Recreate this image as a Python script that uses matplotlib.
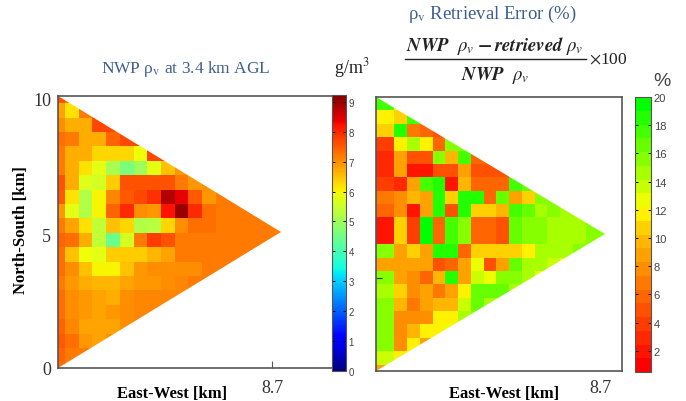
import numpy as np
import matplotlib
matplotlib.use("Agg")
import matplotlib.pyplot as plt
from matplotlib.colors import LinearSegmentedColormap
from matplotlib.patches import Polygon
from matplotlib.transforms import ScaledTranslation

plt.rcParams['font.family'] = ['Liberation Serif', 'DejaVu Serif']
plt.rcParams['mathtext.fontset'] = 'stix'
plt.rcParams['text.color'] = '#222222'

# water vapour density, g/m3, rows from north to south, columns from west to east
nwp_rows = [
    [7.6, 7.3, 7.3],
    [6.8, 6.2, 7.2, 7.4],
    [7.0, 6.7, 6.7, 7.7, 7.7, 7.7],
    [7.3, 7.2, 6.7, 6.7, 7.4, 7.7, 7.7, 7.7],
    [7.2, 6.7, 6.7, 6.3, 6.3, 6.3, 5.9, 7.7, 7.7, 7.2],
    [7.2, 6.7, 6.2, 5.8, 5.1, 4.6, 5.0, 5.8, 6.5, 6.9, 6.9, 7.0],
    [7.6, 6.7, 5.7, 5.6, 6.4, 7.6, 7.6, 7.6, 7.6, 7.2, 6.9, 7.0, 7.2],
    [7.5, 6.2, 5.2, 6.0, 7.1, 7.5, 7.7, 7.9, 8.8, 8.4, 7.5, 6.9, 7.2, 7.2, 7.2],
    [6.9, 5.8, 5.2, 6.0, 7.4, 8.0, 7.0, 6.9, 8.2, 9.0, 8.0, 7.3, 7.2, 7.2, 7.2, 7.2, 7.2],
    [7.2, 6.8, 6.2, 5.4, 6.5, 6.3, 5.2, 5.3, 6.3, 7.0, 7.3, 7.3, 7.2, 7.2, 7.2, 7.2, 7.2],
    [7.4, 7.3, 6.7, 5.4, 4.4, 5.6, 7.2, 7.8, 7.6, 7.2, 7.2, 7.2, 7.2, 7.2, 7.2, 7.2, 7.2],
    [7.3, 6.5, 5.9, 5.8, 6.4, 6.4, 6.4, 6.6, 6.8, 7.2, 7.2, 7.2, 7.2, 7.2, 7.2, 7.2, 7.2],
    [7.3, 7.0, 6.5, 6.0, 6.0, 6.5, 6.9, 7.0, 7.0, 7.0, 7.0, 7.2, 7.2, 7.2, 7.2],
    [7.2, 6.9, 6.7, 6.6, 6.6, 6.8, 6.9, 6.9, 7.0, 7.1, 7.2, 7.2, 7.2],
    [7.3, 7.0, 6.9, 6.8, 6.7, 7.0, 7.1, 7.1, 7.1, 7.1, 7.1],
    [7.3, 7.0, 6.9, 6.8, 6.9, 7.0, 7.1, 7.1, 7.1, 7.1],
    [7.4, 7.1, 6.8, 6.8, 6.8, 7.0, 7.1, 7.1],
    [7.5, 7.3, 6.9, 6.8, 7.0, 7.1],
    [7.4, 7.2, 7.2, 7.2, 7.2],
    [7.3, 7.2, 7.2],
]

# retrieval error, percent
error_rows = [
    [18, 12, 12],
    [12, 11, 18, 18],
    [10.5, 19, 6.5, 5.5, 4.5, 5],
    [4, 11.5, 15, 11.5, 5.5, 16, 16, 16],
    [2.5, 8.5, 4.5, 5, 15.5, 9.5, 18, 6, 6],
    [3, 8.5, 1.5, 1.5, 4.5, 4.5, 8.5, 5, 5, 5, 17, 17],
    [3.5, 2.5, 8.5, 18, 19, 2, 9.5, 6, 6, 5.5, 18, 17, 17, 16],
    [6.5, 7.5, 10, 8.5, 19, 10.5, 19, 19, 5.5, 16.5, 9, 10.5, 16, 16, 16],
    [5.5, 7.5, 1.5, 8.5, 19, 4.5, 18.5, 11, 11, 10, 18, 16.5, 14.5, 15.5, 15, 15, 16],
    [2, 10.5, 3.5, 19.5, 5.5, 18, 16, 5.5, 6, 5, 17, 16, 16, 15, 14.5, 15, 15.5, 16],
    [2, 10.5, 3.5, 19.5, 5.5, 18, 16, 5.5, 6, 5, 17, 16, 16, 15, 14.5, 15, 15.5, 16],
    [16, 8.5, 10.5, 8.5, 19, 19, 5.5, 10.5, 10.5, 10.5, 10.5, 11.5, 14.5, 14.5, 15, 15.5, 15, 15],
    [9, 9, 9, 8.5, 5, 5.5, 8.5, 12.5, 5, 9, 17, 15, 14.5, 13.5, 13, 13, 13],
    [16, 8.5, 7.5, 6, 10, 19, 8.5, 14, 13, 16, 16, 15, 13, 13, 13],
    [14.5, 10.5, 8, 9, 7, 9, 12, 16.5, 16.5, 16.5, 15, 15, 15],
    [15.5, 9.5, 7, 8.5, 9.5, 9.5, 13.5, 16.5, 15, 15, 15],
    [15.5, 8, 8, 8, 11.5, 12, 15, 16, 16],
    [15.5, 8, 10, 11.5, 11.5, 13, 13, 13],
    [16, 8, 11.5, 8.5, 12, 12],
    [14, 12, 12, 12],
    [9, 12, 12],
]

nwp_ticks = list(range(10))
error_ticks = list(range(2, 21, 2))


def to_grid(rows):
    width = max(len(r) for r in rows)
    return np.array([r + [np.nan] * (width - len(r)) for r in rows])


def make_panel(fig, box, rows, first_w, step_w, first_h, step_h, tip, cmap, vmin, vmax):
    W, H = 686, 402
    left, top, right, bottom = box
    ax = fig.add_axes([left / W, 1 - bottom / H, (right - left) / W, (bottom - top) / H])
    grid = to_grid(rows)
    xe = np.r_[0, first_w + step_w * np.arange(grid.shape[1])]
    ye = np.r_[10, 10 - first_h - step_h * np.arange(grid.shape[0])]
    mesh = ax.pcolormesh(xe, ye, grid, cmap=cmap, vmin=vmin, vmax=vmax, antialiased=False)
    mesh.set_clip_path(Polygon([(0, 10), (tip, 5), (0, 0)], transform=ax.transData))
    ax.set_ylim(0, 10)
    for s in ax.spines.values():
        s.set_color('#555555')
        s.set_linewidth(1.2)
    return ax, mesh


def make_bar(fig, box, mesh, ticks, size):
    W, H = 686, 402
    left, top, right, bottom = box
    cax = fig.add_axes([left / W, 1 - bottom / H, (right - left) / W, (bottom - top) / H])
    cb = fig.colorbar(mesh, cax=cax)
    cb.set_ticks(ticks)
    cb.outline.set_edgecolor('#555555')
    cb.outline.set_linewidth(0.8)
    cax.tick_params(direction='in', length=2, width=0.7, left=True, right=True, pad=2,
                    labelsize=size, labelcolor='#444444')
    for t in cax.get_yticklabels():
        t.set_family('Liberation Sans')
    return cb


fig = plt.figure(figsize=(6.86, 4.02), dpi=100)

step_left = 14.4 * 10 / 272
ax1, mesh1 = make_panel(fig, (58, 97, 332, 369), nwp_rows, 7 / 24.6, 13.7 / 24.6,
                        step_left / 2, step_left, 223 / 24.6, 'jet', 0, 9.23)
ax1.spines['right'].set_visible(False)
ax1.set_xlim(0, 274 / 24.6)
ax1.set_xticks([8.7])
ax1.set_xticklabels(['8.7'], fontsize=13, color='#333333')
ax1.tick_params(axis='x', direction='in', length=5, width=0.8, pad=8, color='#555555')
ax1.set_yticks([0, 5, 10])
ax1.set_yticklabels(['0', '5', '10'], fontsize=13, color='#333333')
ax1.tick_params(axis='y', length=0, pad=5)
# the 5 and 10 sit a little below their marks
for t in ax1.get_yticklabels()[1:]:
    t.set_transform(t.get_transform() + ScaledTranslation(0, -3 / 100, fig.dpi_scale_trans))
ax1.set_xlabel('East-West [km]', fontsize=12, fontweight='bold')
ax1.xaxis.set_label_coords(114 / 274, -17 / 272)
ax1.set_ylabel('North-South [km]', fontsize=12, fontweight='bold')
ax1.yaxis.set_label_coords(-29 / 274, 0.51)

err_cmap = LinearSegmentedColormap.from_list(
    'err', [(0, '#ff0000'), (0.5, '#ffc000'), (0.6, '#ffff00'), (1, '#00ff00')], N=20)
step_right = 13.38 * 10 / 274
ax2, mesh2 = make_panel(fig, (376, 98, 622, 372), error_rows, 18.3 / 25.75, 12.75 / 25.75,
                        step_right, step_right, 229 / 25.75, err_cmap, 0.5, 20)
ax2.set_xlim(0, 246 / 25.75)
ax2.set_xticks([8.7])
ax2.set_xticklabels(['8.7'], fontsize=13, color='#333333')
ax2.tick_params(axis='x', length=0, pad=6)
ax2.set_yticks([3.4])
ax2.set_yticklabels([''])
ax2.tick_params(axis='y', direction='in', length=4, width=0.8, color='#333333')
ax2.set_xlabel('East-West [km]', fontsize=12, fontweight='bold')
ax2.xaxis.set_label_coords(128 / 246, -14 / 274)

make_bar(fig, (332, 96, 346, 372), mesh1, nwp_ticks, 7)
make_bar(fig, (635, 98, 651, 373), mesh2, error_ticks, 8)


def label(x, y, s, **kw):
    fig.text(x / 686, 1 - y / 402, s, ha='center', va='center', **kw)


blue = '#3f5f8f'
label(186, 69, r'NWP ρ$_{\mathrm{v}}$ at 3.4 km AGL', fontsize=12.5, color=blue)
label(352, 68, r'g/m$^3$', fontsize=13)
label(662, 81, '%', fontsize=14, color='#444444', family='Liberation Sans')
label(492, 14, r'ρ$_{\mathrm{v}}$ Retrieval Error (%)', fontsize=13.5, color=blue)
label(495, 46, r'$\mathbfit{NWP}\ \ \rho_v\ \mathbf{-}\,\mathbfit{retrieved}\ \rho_v$', fontsize=13.5)
label(495, 76, r'$\mathbfit{NWP}\ \ \rho_v$', fontsize=13.5)
label(608, 60, r'$\times$100', fontsize=12.5)
fig.add_artist(plt.Line2D([405 / 686, 586 / 686], [1 - 60 / 402, 1 - 60 / 402], color='#222222', lw=1))

fig.savefig('out.png', dpi=100)
